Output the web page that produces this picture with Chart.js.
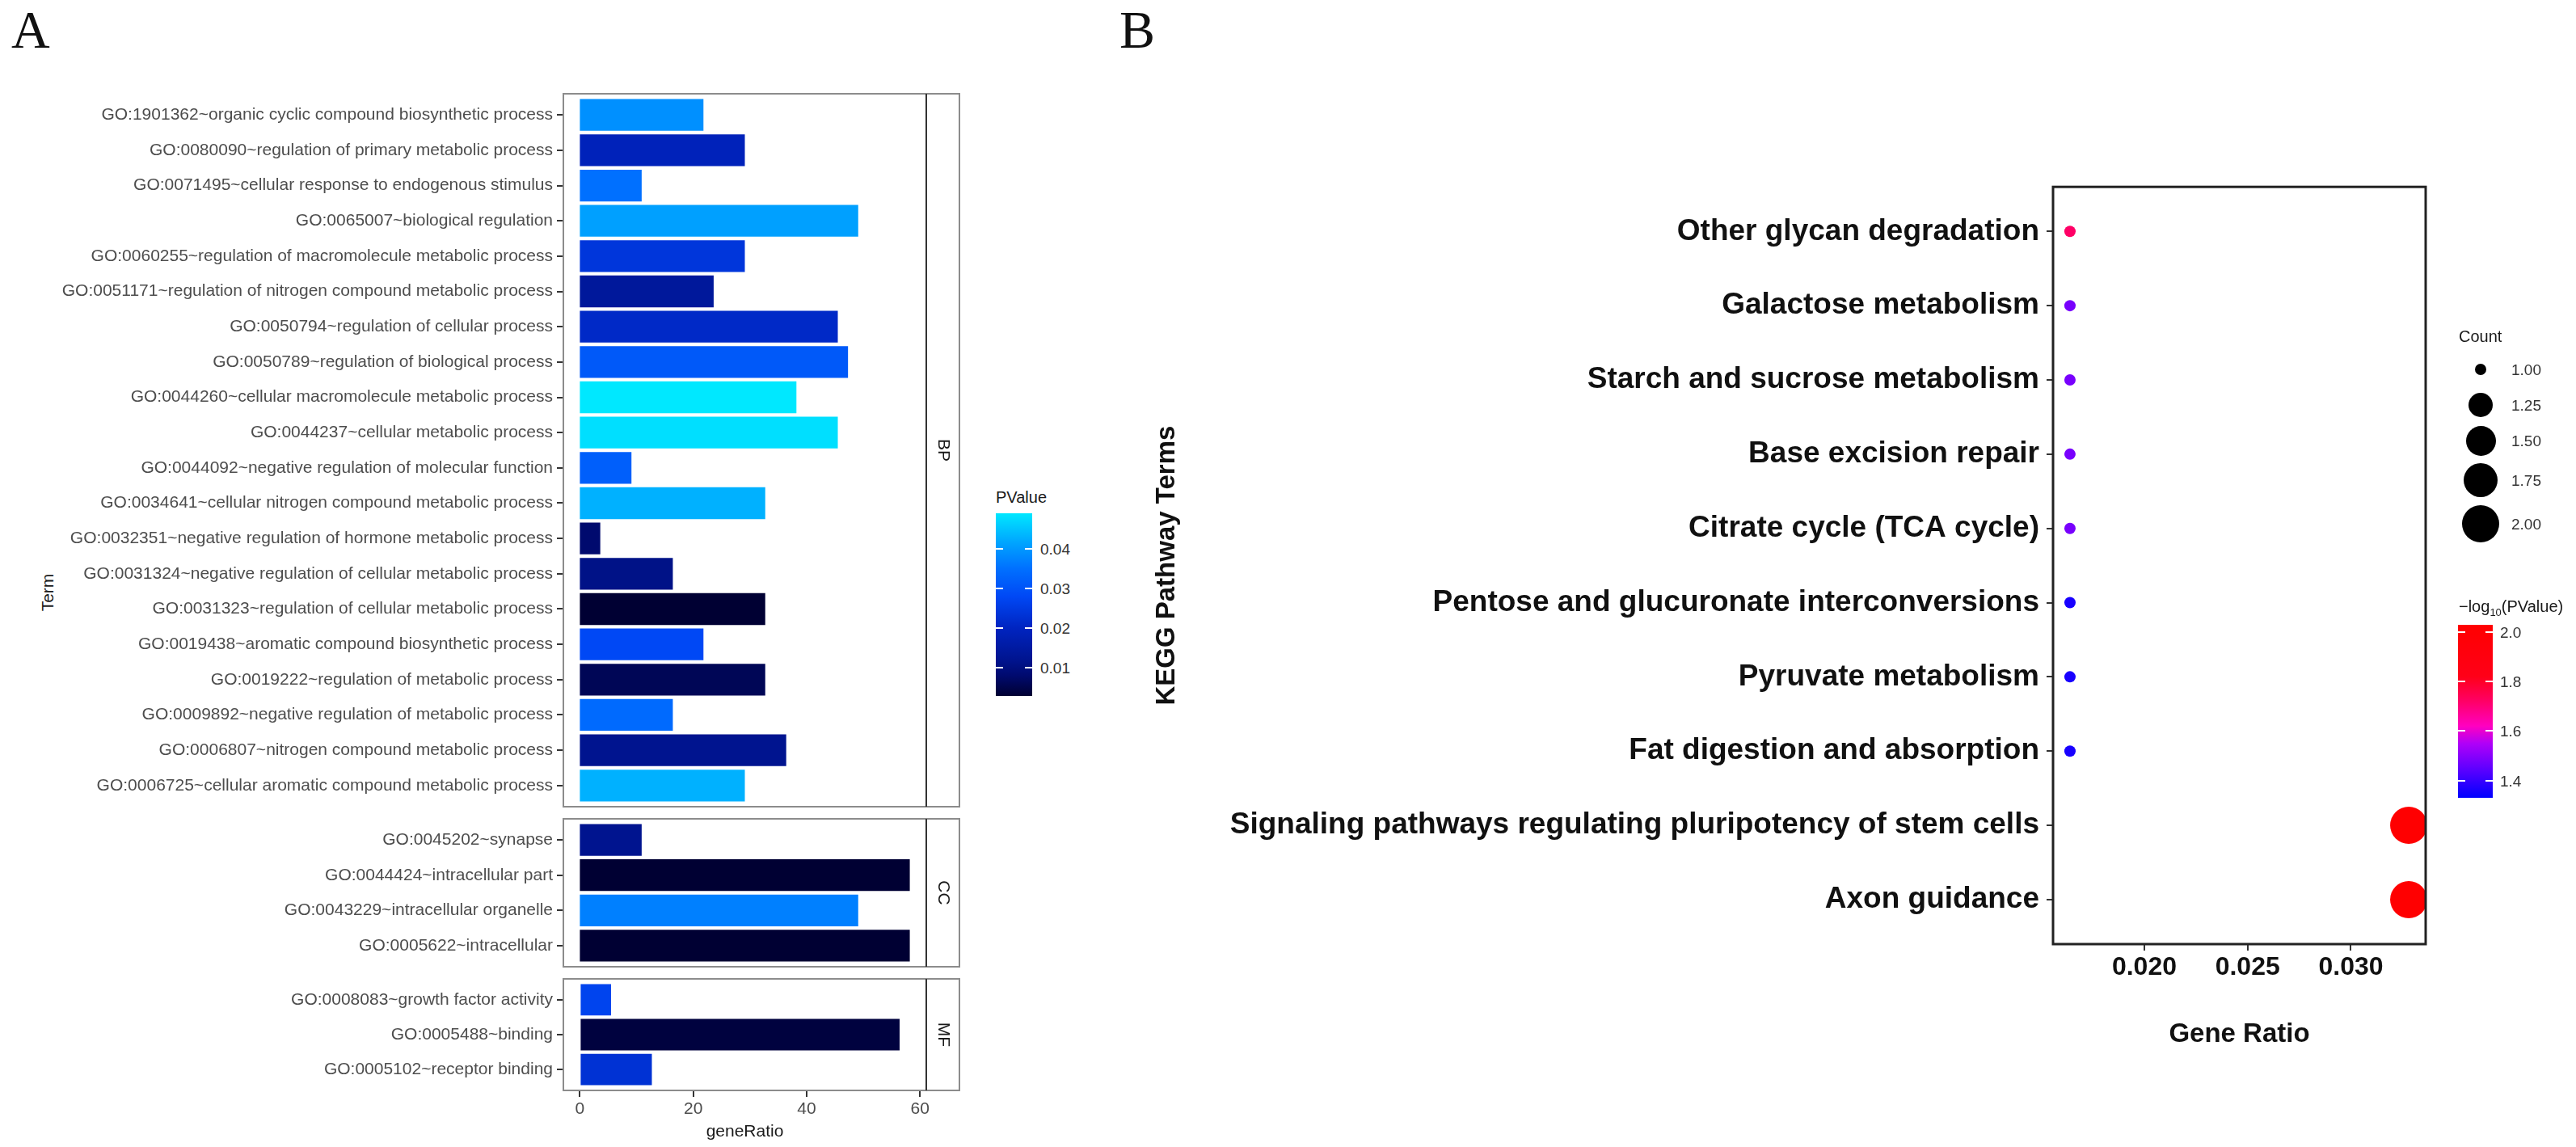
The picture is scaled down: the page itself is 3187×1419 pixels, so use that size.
<!DOCTYPE html>
<html lang="en">
<head>
<meta charset="UTF-8">
<title>GO and KEGG enrichment</title>
<script src="https://cdn.jsdelivr.net/npm/chart.js@4.4.1/dist/chart.umd.min.js"></script>
<style>
    * { margin: 0; padding: 0; box-sizing: border-box; }
    body {
        width: 3187px; height: 1419px; position: relative; overflow: hidden;
        background: #fff; color: #1a1a1a;
        font-family: 'Liberation Sans', Arial, sans-serif;
    }
    canvas { position: absolute; }
    .lbl { position: absolute; white-space: nowrap; line-height: 1; }
    .tag { font-family: 'Liberation Serif', 'Times New Roman', serif; font-size: 66px; color: #111; }
    .mid { transform: translateY(-50%); }
    .legend-title { font-size: 20px; color: #1a1a1a; }
    .legend-text { font-size: 19px; color: #333; }
    .legend-text sub, .legend-title sub { font-size: 13px; }
    .cbar, .tick, .dot { position: absolute; }
    .tick { height: 2px; width: 9px; background: #fff; }
    .dot { border-radius: 50%; background: #000; }
</style>
</head>
<body>
<div class="lbl tag" style="left:14px; top:4px;">A</div>
<div class="lbl tag" style="left:1385px; top:4px;">B</div>
<div class="lbl" style="left:58px; top:733px; font-size:21px; transform: translate(-50%, -50%) rotate(-90deg);">Term</div>

<canvas id="bpChart"></canvas>
<canvas id="ccChart"></canvas>
<canvas id="mfChart"></canvas>
<canvas id="keggChart"></canvas>
<div id="legends"></div>

<script>
    // ---------- data ----------
    const bpTerms = [
        'GO:1901362~organic cyclic compound biosynthetic process',
        'GO:0080090~regulation of primary metabolic process',
        'GO:0071495~cellular response to endogenous stimulus',
        'GO:0065007~biological regulation',
        'GO:0060255~regulation of macromolecule metabolic process',
        'GO:0051171~regulation of nitrogen compound metabolic process',
        'GO:0050794~regulation of cellular process',
        'GO:0050789~regulation of biological process',
        'GO:0044260~cellular macromolecule metabolic process',
        'GO:0044237~cellular metabolic process',
        'GO:0044092~negative regulation of molecular function',
        'GO:0034641~cellular nitrogen compound metabolic process',
        'GO:0032351~negative regulation of hormone metabolic process',
        'GO:0031324~negative regulation of cellular metabolic process',
        'GO:0031323~regulation of cellular metabolic process',
        'GO:0019438~aromatic compound biosynthetic process',
        'GO:0019222~regulation of metabolic process',
        'GO:0009892~negative regulation of metabolic process',
        'GO:0006807~nitrogen compound metabolic process',
        'GO:0006725~cellular aromatic compound metabolic process'
    ];
    const bpRatio = [21.8, 29.1, 10.9, 49.1, 29.1, 23.6, 45.5, 47.3, 38.2, 45.5,
                     9.1, 32.7, 3.6, 16.4, 32.7, 21.8, 32.7, 16.4, 36.4, 29.1];
    const bpPValue = [0.039, 0.019, 0.035, 0.041, 0.024, 0.014, 0.021, 0.031, 0.049, 0.048,
                      0.032, 0.043, 0.008, 0.011, 0.003, 0.028, 0.006, 0.034, 0.012, 0.043];

    const ccTerms = [
        'GO:0045202~synapse',
        'GO:0044424~intracellular part',
        'GO:0043229~intracellular organelle',
        'GO:0005622~intracellular'
    ];
    const ccRatio = [10.9, 58.2, 49.1, 58.2];
    const ccPValue = [0.012, 0.003, 0.037, 0.003];

    const mfTerms = [
        'GO:0008083~growth factor activity',
        'GO:0005488~binding',
        'GO:0005102~receptor binding'
    ];
    const mfRatio = [5.5, 56.4, 12.7];
    const mfPValue = [0.027, 0.004, 0.023];

    const keggTerms = [
        'Other glycan degradation',
        'Galactose metabolism',
        'Starch and sucrose metabolism',
        'Base excision repair',
        'Citrate cycle (TCA cycle)',
        'Pentose and glucuronate interconversions',
        'Pyruvate metabolism',
        'Fat digestion and absorption',
        'Signaling pathways regulating pluripotency of stem cells',
        'Axon guidance'
    ];
    const keggRatio = [0.0164, 0.0164, 0.0164, 0.0164, 0.0164, 0.0164, 0.0164, 0.0164, 0.0328, 0.0328];
    const keggCount = [1, 1, 1, 1, 1, 1, 1, 1, 2, 2];
    const keggLogP = [1.72, 1.48, 1.48, 1.48, 1.48, 1.36, 1.36, 1.36, 2.02, 2.02];

    const geneRatioTicks = [0, 20, 40, 60];
    const keggRatioTicks = [0.020, 0.025, 0.030];
    const pValueTicks = [0.01, 0.02, 0.03, 0.04];
    const logPTicks = [1.4, 1.6, 1.8, 2.0];
    const countTicks = [1.00, 1.25, 1.50, 1.75, 2.00];

    // ---------- colour / size scales ----------
    const pValueStops = [[0.003, '#000033'], [0.008, '#000a6e'], [0.012, '#00148f'], [0.020, '#0024c0'],
                         [0.028, '#0048f5'], [0.035, '#0070ff'], [0.042, '#00a8ff'], [0.049, '#00e8ff']];
    const logPStops = [[1.33, '#0000ff'], [1.45, '#6000ff'], [1.55, '#b000f8'], [1.62, '#ff00c0'],
                       [1.72, '#ff0066'], [1.82, '#ff0018'], [2.03, '#ff0000']];
    const countRadii = [7, 15, 18.5, 21, 23];

    function hexRgb(h) {
        return [1, 3, 5].map(i => parseInt(h.slice(i, i + 2), 16));
    }
    function mix(stops, v) {
        if (v <= stops[0][0]) return stops[0][1];
        for (let i = 1; i < stops.length; i++) {
            if (v <= stops[i][0]) {
                const t = (v - stops[i - 1][0]) / (stops[i][0] - stops[i - 1][0]);
                const a = hexRgb(stops[i - 1][1]), b = hexRgb(stops[i][1]);
                return 'rgb(' + a.map((c, k) => Math.round(c + (b[k] - c) * t)).join(',') + ')';
            }
        }
        return stops[stops.length - 1][1];
    }
    function countRadius(c) {
        for (let i = 1; i < countTicks.length; i++) {
            if (c <= countTicks[i]) {
                const t = (c - countTicks[i - 1]) / (countTicks[i] - countTicks[i - 1]);
                return countRadii[i - 1] + (countRadii[i] - countRadii[i - 1]) * t;
            }
        }
        return countRadii[countRadii.length - 1];
    }

    Chart.defaults.font.family = "'Liberation Sans', Arial, sans-serif";

    // ---------- panel A : faceted bars ----------
    const A_LEFT = 697, A_RIGHT = 1146, A_STRIP = 1187, A_CANVAS_W = 1200, PAGE_H = 1419;

    const facetStrip = {
        id: 'facetStrip',
        afterDraw(chart, args, opts) {
            const { ctx, chartArea: a } = chart;
            ctx.save();
            ctx.lineWidth = 2;
            ctx.strokeStyle = '#8c8c8c';
            ctx.strokeRect(a.left, a.top, opts.stripRight - a.left, a.bottom - a.top);
            ctx.strokeStyle = '#333';
            ctx.beginPath();
            ctx.moveTo(a.right, a.top);
            ctx.lineTo(a.right, a.bottom);
            ctx.stroke();
            ctx.translate((a.right + opts.stripRight) / 2, (a.top + a.bottom) / 2);
            ctx.rotate(Math.PI / 2);
            ctx.fillStyle = '#1a1a1a';
            ctx.font = "21px 'Liberation Sans', Arial, sans-serif";
            ctx.textAlign = 'center';
            ctx.textBaseline = 'middle';
            ctx.fillText(opts.label, 0, 0);
            ctx.restore();
        }
    };

    function makeFacet(id, label, terms, ratio, pvals, top, bottom, showX) {
        const el = document.getElementById(id);
        const canvasTop = top - 20;
        const h = showX ? PAGE_H - canvasTop : bottom - top + 40;
        el.width = A_CANVAS_W;
        el.height = h;
        el.style.left = '0px';
        el.style.top = canvasTop + 'px';

        new Chart(el, {
            type: 'bar',
            data: {
                datasets: [{
                    data: ratio.map((v, i) => ({ x: v, y: i + 1 })),
                    backgroundColor: pvals.map(p => mix(pValueStops, p)),
                    borderWidth: 0,
                    categoryPercentage: 0.9,
                    barPercentage: 1
                }]
            },
            options: {
                indexAxis: 'y',
                responsive: false,
                animation: false,
                devicePixelRatio: 1,
                layout: { padding: { left: 0, top: 20, right: A_CANVAS_W - A_RIGHT, bottom: showX ? 0 : 20 } },
                plugins: {
                    legend: { display: false },
                    tooltip: { enabled: false },
                    facetStrip: { label: label, stripRight: A_STRIP }
                },
                scales: {
                    x: {
                        type: 'linear',
                        min: -2.91,
                        max: 61.11,
                        display: showX,
                        afterBuildTicks: s => { s.ticks = geneRatioTicks.map(v => ({ value: v })); },
                        afterFit: s => { s.height = showX ? PAGE_H - bottom : 0; },
                        grid: { drawOnChartArea: false, tickLength: 8, color: '#333', lineWidth: 2 },
                        border: { display: false },
                        ticks: { font: { size: 21 }, color: '#4d4d4d', padding: 3 },
                        title: { display: true, text: 'geneRatio', font: { size: 21 }, color: '#1a1a1a',
                                 padding: { top: 0, bottom: 6 } }
                    },
                    y: {
                        type: 'linear',
                        reverse: true,
                        offset: false,
                        min: 0.4,
                        max: terms.length + 0.6,
                        afterBuildTicks: s => { s.ticks = terms.map((t, i) => ({ value: i + 1 })); },
                        afterFit: s => { s.width = A_LEFT; },
                        grid: { offset: false, drawOnChartArea: false, tickLength: 8, color: '#333', lineWidth: 2 },
                        border: { display: false },
                        ticks: { autoSkip: false, callback: v => terms[v - 1], font: { size: 21 },
                                 color: '#4d4d4d', padding: 5 }
                    }
                }
            },
            plugins: [facetStrip]
        });
    }

    makeFacet('bpChart', 'BP', bpTerms, bpRatio, bpPValue, 116, 998, false);
    makeFacet('ccChart', 'CC', ccTerms, ccRatio, ccPValue, 1013, 1196, false);
    makeFacet('mfChart', 'MF', mfTerms, mfRatio, mfPValue, 1211, 1349, true);

    // ---------- panel B : KEGG bubbles ----------
    const B_CANVAS_L = 1420, B_CANVAS_T = 200, B_CANVAS_W = 3187 - 1420, B_CANVAS_H = 1100;
    const B_LEFT = 2540, B_RIGHT = 3001, B_TOP = 227, B_BOTTOM = 1168;

    const plotFrame = {
        id: 'plotFrame',
        afterDraw(chart) {
            const { ctx, chartArea: a } = chart;
            ctx.save();
            ctx.lineWidth = 3;
            ctx.strokeStyle = '#222';
            ctx.strokeRect(a.left, a.top, a.right - a.left, a.bottom - a.top);
            ctx.restore();
        }
    };

    const kEl = document.getElementById('keggChart');
    kEl.width = B_CANVAS_W;
    kEl.height = B_CANVAS_H;
    kEl.style.left = B_CANVAS_L + 'px';
    kEl.style.top = B_CANVAS_T + 'px';

    new Chart(kEl, {
        type: 'bubble',
        data: {
            datasets: [{
                data: keggTerms.map((t, i) => ({ x: keggRatio[i], y: i + 1, r: countRadius(keggCount[i]) })),
                backgroundColor: keggLogP.map(v => mix(logPStops, v)),
                borderWidth: 0
            }]
        },
        options: {
            responsive: false,
            animation: false,
            devicePixelRatio: 1,
            layout: { padding: { left: 0, top: B_TOP - B_CANVAS_T,
                                 right: B_CANVAS_W - (B_RIGHT - B_CANVAS_L), bottom: 0 } },
            plugins: { legend: { display: false }, tooltip: { enabled: false } },
            scales: {
                x: {
                    type: 'linear',
                    min: 0.01558,
                    max: 0.03362,
                    afterBuildTicks: s => { s.ticks = keggRatioTicks.map(v => ({ value: v })); },
                    afterFit: s => { s.height = B_CANVAS_T + B_CANVAS_H - B_BOTTOM; },
                    grid: { drawOnChartArea: false, tickLength: 8, color: '#333', lineWidth: 2 },
                    border: { display: false },
                    ticks: { callback: v => v.toFixed(3), font: { size: 32, weight: 'bold' }, color: '#111', padding: 2 },
                    title: { display: true, text: 'Gene Ratio', font: { size: 33, weight: 'bold' }, color: '#111',
                             padding: { top: 0, bottom: 0 } }
                },
                y: {
                    type: 'linear',
                    reverse: true,
                    min: 0.4,
                    max: keggTerms.length + 0.6,
                    afterBuildTicks: s => { s.ticks = keggTerms.map((t, i) => ({ value: i + 1 })); },
                    afterFit: s => { s.width = B_LEFT - B_CANVAS_L; },
                    grid: { drawOnChartArea: false, tickLength: 8, color: '#333', lineWidth: 2 },
                    border: { display: false },
                    ticks: {
                        autoSkip: false,
                        callback: v => keggTerms[v - 1],
                        font: { size: 37, weight: 'bold' },
                        color: '#111',
                        padding: 9
                    },
                    title: { display: true, text: 'KEGG Pathway Terms', font: { size: 33, weight: 'bold' },
                             color: '#111', padding: { top: 4, bottom: 0 } }
                }
            }
        },
        plugins: [plotFrame]
    });

    // ---------- legends ----------
    const legends = document.getElementById('legends');
    function addText(html, x, y, cls) {
        const d = document.createElement('div');
        d.className = 'lbl mid ' + cls;
        d.style.left = x + 'px';
        d.style.top = y + 'px';
        d.innerHTML = html;
        legends.appendChild(d);
    }
    function addColorbar(stops, hi, lo, ticks, digits, x, top, w, h, labelX) {
        const pos = v => (hi - v) / (hi - lo) * h;
        const bar = document.createElement('div');
        bar.className = 'cbar';
        const grad = stops.map(s => s[1] + ' ' + (100 - pos(s[0]) / h * 100).toFixed(2) + '%').join(', ');
        bar.style.cssText = 'left:' + x + 'px; top:' + top + 'px; width:' + w + 'px; height:' + h +
                            'px; background: linear-gradient(to top, ' + grad + ');';
        legends.appendChild(bar);
        ticks.forEach(v => {
            const y = top + pos(v);
            [x, x + w - 9].forEach(tx => {
                const t = document.createElement('div');
                t.className = 'tick';
                t.style.left = tx + 'px';
                t.style.top = (y - 1) + 'px';
                legends.appendChild(t);
            });
            addText(v.toFixed(digits), labelX, y, 'legend-text');
        });
    }

    // P value colourbar (panel A)
    addText('PValue', 1232, 615, 'legend-title');
    addColorbar(pValueStops, 0.049, 0.0029, pValueTicks, 2, 1232, 635, 45, 226, 1287);

    // Count size legend (panel B)
    addText('Count', 3042, 416, 'legend-title');
    const countY = [457, 501, 545, 594, 648];
    countTicks.forEach((c, i) => {
        const r = countRadius(c);
        const d = document.createElement('div');
        d.className = 'dot';
        d.style.cssText = 'left:' + (3069 - r) + 'px; top:' + (countY[i] - r) + 'px; width:' + (2 * r) +
                          'px; height:' + (2 * r) + 'px;';
        legends.appendChild(d);
        addText(c.toFixed(2), 3107, countY[i], 'legend-text');
    });

    // -log10(PValue) colourbar (panel B)
    addText('&minus;log<sub>10</sub>(PValue)', 3042, 752, 'legend-title');
    addColorbar(logPStops, 2.029, 1.33, logPTicks, 1, 3041, 773, 43, 214, 3093);
</script>
</body>
</html>
